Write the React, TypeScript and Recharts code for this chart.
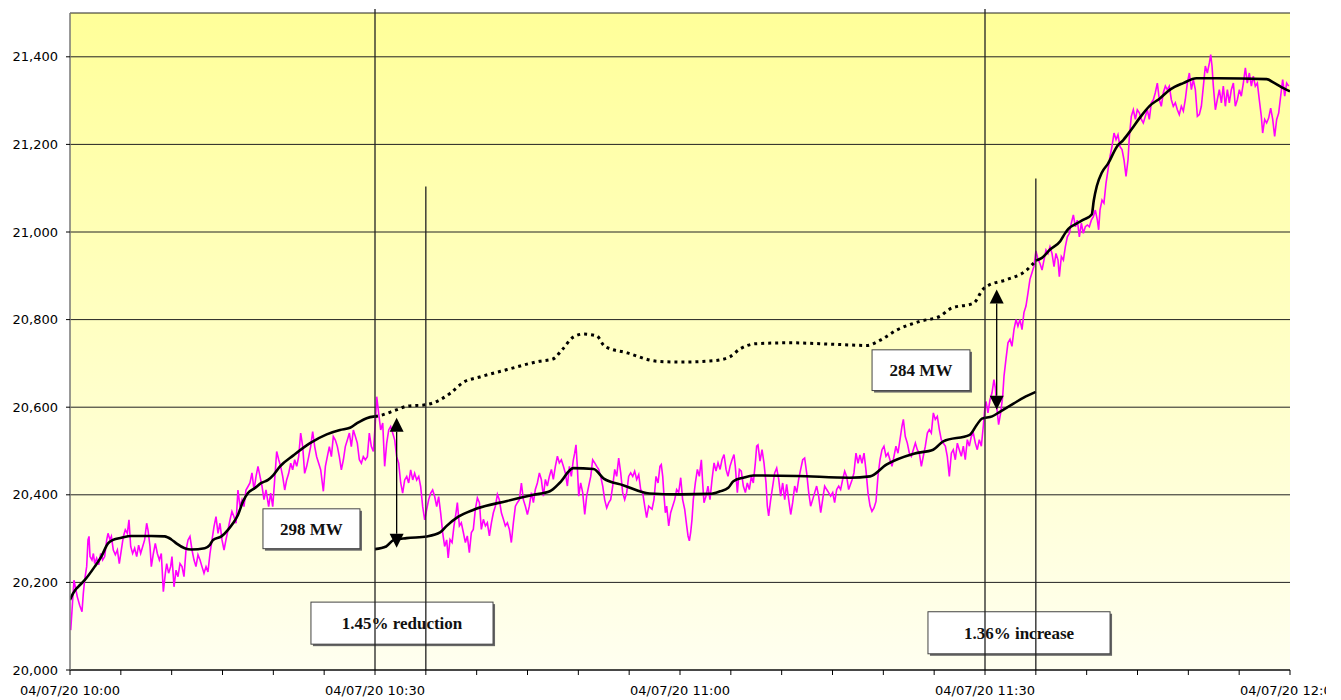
import React from "react";
import { CartesianGrid, Line, LineChart, ReferenceArea, ReferenceLine, XAxis, YAxis } from "recharts";

type Pt = [number, number]; // [minutes after 10:00, MW]

const TIME_LABELS = ["04/07/20 10:00", "04/07/20 10:30", "04/07/20 11:00", "04/07/20 11:30", "04/07/20 12:00"];
const X_TICKS = [0, 5, 10, 15, 20, 25, 30, 35, 40, 45, 50, 55, 60, 65, 70, 75, 80, 85, 90, 95, 100, 105, 110, 115, 120];
const Y_TICKS = [20000, 20200, 20400, 20600, 20800, 21000, 21200, 21400];

// actual demand (magenta), one list per half hour
const load1000: Pt[] = [
  [0.07, 20091], [0.2, 20137], [0.39, 20205], [0.52, 20190], [0.72, 20167], [0.95, 20148], [1.18, 20133], [1.31, 20175],
  [1.44, 20205], [1.64, 20236], [1.77, 20297], [1.87, 20305], [1.97, 20259], [2.16, 20251], [2.3, 20266], [2.43, 20243],
  [2.62, 20255], [2.82, 20240], [3.02, 20266], [3.21, 20251], [3.41, 20259], [3.61, 20297], [3.74, 20312], [3.93, 20297],
  [4.07, 20305], [4.26, 20274], [4.46, 20263], [4.66, 20274], [4.85, 20243], [5.05, 20274], [5.25, 20305], [5.44, 20320],
  [5.64, 20312], [5.8, 20343], [5.97, 20282], [6.16, 20266], [6.36, 20278], [6.56, 20259], [6.75, 20285], [6.95, 20266],
  [7.15, 20282], [7.34, 20297], [7.54, 20335], [7.67, 20320], [7.87, 20282], [8.0, 20236], [8.2, 20266], [8.39, 20289],
  [8.59, 20266], [8.79, 20251], [8.98, 20266], [9.18, 20179], [9.38, 20221], [9.51, 20243], [9.7, 20221], [9.9, 20236],
  [10.03, 20259], [10.23, 20190], [10.43, 20228], [10.62, 20213], [10.82, 20243], [11.02, 20236], [11.21, 20213], [11.41, 20274],
  [11.61, 20297], [11.8, 20305], [12.0, 20274], [12.2, 20251], [12.39, 20236], [12.59, 20263], [12.79, 20251], [12.98, 20236],
  [13.18, 20221], [13.38, 20236], [13.57, 20224], [13.77, 20266], [13.97, 20297], [14.16, 20327], [14.36, 20350], [14.56, 20312],
  [14.75, 20335], [14.95, 20297], [15.15, 20274], [15.34, 20297], [15.54, 20320], [15.74, 20343], [15.93, 20362], [16.13, 20350],
  [16.33, 20335], [16.52, 20411], [16.72, 20373], [16.92, 20389], [17.11, 20373], [17.31, 20411], [17.51, 20419], [17.7, 20427],
  [17.9, 20450], [18.1, 20411], [18.3, 20442], [18.49, 20465], [18.69, 20442], [18.89, 20419], [19.08, 20389], [19.28, 20411],
  [19.54, 20373], [19.74, 20404], [19.94, 20373], [20.13, 20434], [20.33, 20499], [20.53, 20480], [20.72, 20465], [20.92, 20442],
  [21.12, 20411], [21.31, 20434], [21.51, 20449], [21.71, 20472], [21.9, 20457], [22.1, 20480], [22.3, 20465], [22.49, 20487],
  [22.69, 20541], [22.89, 20510], [23.08, 20449], [23.28, 20465], [23.48, 20487], [23.67, 20510], [23.87, 20544], [24.07, 20510],
  [24.26, 20487], [24.46, 20472], [24.66, 20457], [24.92, 20408], [25.12, 20465], [25.31, 20487], [25.51, 20510], [25.71, 20487],
  [25.9, 20533], [26.1, 20525], [26.3, 20510], [26.49, 20487], [26.69, 20457], [26.89, 20480], [27.08, 20510], [27.28, 20525],
  [27.48, 20541], [27.67, 20510], [27.87, 20548], [28.07, 20533], [28.26, 20518], [28.46, 20480], [28.66, 20472], [28.85, 20487],
  [29.05, 20480], [29.25, 20487], [29.44, 20541], [29.64, 20510], [29.84, 20499],
];

const load1030: Pt[] = [
  [30.03, 20564], [30.17, 20624], [30.36, 20586], [30.56, 20548], [30.76, 20564], [30.95, 20465], [31.15, 20518], [31.35, 20548],
  [31.54, 20556], [31.74, 20541], [31.94, 20525], [32.13, 20487], [32.33, 20472], [32.53, 20427], [32.72, 20404], [32.92, 20434],
  [33.12, 20442], [33.31, 20427], [33.51, 20457], [33.71, 20434], [33.9, 20449], [34.1, 20434], [34.3, 20442], [34.49, 20419],
  [34.69, 20373], [34.89, 20343], [35.08, 20366], [35.28, 20389], [35.48, 20404], [35.67, 20411], [35.87, 20396], [36.07, 20373],
  [36.26, 20396], [36.46, 20358], [36.66, 20313], [36.85, 20282], [37.05, 20297], [37.2, 20256], [37.38, 20298], [37.58, 20291],
  [37.77, 20329], [37.97, 20359], [38.1, 20382], [38.3, 20329], [38.49, 20336], [38.69, 20314], [38.89, 20291], [39.08, 20306],
  [39.28, 20268], [39.48, 20314], [39.67, 20321], [39.87, 20367], [40.07, 20393], [40.27, 20382], [40.46, 20321], [40.66, 20344],
  [40.86, 20329], [41.05, 20336], [41.25, 20306], [41.45, 20336], [41.64, 20359], [41.84, 20374], [42.04, 20401], [42.23, 20389],
  [42.43, 20359], [42.63, 20344], [42.82, 20329], [43.02, 20336], [43.22, 20321], [43.41, 20291], [43.61, 20336], [43.81, 20374],
  [44.0, 20382], [44.2, 20389], [44.4, 20427], [44.59, 20389], [44.79, 20374], [44.99, 20355], [45.18, 20374], [45.38, 20405],
  [45.58, 20382], [45.77, 20412], [45.97, 20427], [46.17, 20450], [46.36, 20435], [46.56, 20397], [46.76, 20435], [46.95, 20420],
  [47.15, 20442], [47.35, 20458], [47.54, 20435], [47.74, 20465], [47.94, 20488], [48.13, 20473], [48.33, 20480], [48.53, 20465],
  [48.72, 20450], [48.92, 20420], [49.12, 20465], [49.31, 20442], [49.51, 20480], [49.64, 20495], [49.77, 20514], [49.9, 20465],
  [50.04, 20397], [50.23, 20427], [50.43, 20405], [50.63, 20355], [50.82, 20397], [51.02, 20420], [51.22, 20442], [51.41, 20480],
  [51.61, 20473], [51.81, 20465], [52.0, 20458], [52.2, 20442], [52.4, 20420], [52.59, 20389], [52.79, 20370], [52.99, 20382],
  [53.18, 20389], [53.38, 20420], [53.58, 20458], [53.77, 20442], [53.97, 20484], [54.17, 20450], [54.36, 20405], [54.56, 20389],
  [54.76, 20405], [54.95, 20442], [55.15, 20450], [55.35, 20442], [55.54, 20454], [55.74, 20435], [55.94, 20446], [56.13, 20412],
  [56.33, 20405], [56.53, 20374], [56.72, 20348], [56.92, 20374], [57.25, 20367], [57.44, 20389], [57.64, 20442], [57.84, 20427],
  [58.03, 20465], [58.16, 20469], [58.3, 20442], [58.43, 20397], [58.56, 20359], [58.69, 20374], [58.89, 20329], [59.08, 20359],
  [59.28, 20374], [59.48, 20389], [59.67, 20412], [59.87, 20405],
];

const load1100: Pt[] = [
  [60.07, 20439], [60.26, 20389], [60.46, 20367], [60.66, 20329], [60.79, 20306], [60.92, 20295], [61.05, 20314], [61.18, 20344],
  [61.31, 20389], [61.51, 20427], [61.71, 20458], [61.9, 20442], [62.1, 20480], [62.23, 20427], [62.36, 20382], [62.56, 20397],
  [62.75, 20420], [62.95, 20389], [63.15, 20435], [63.35, 20473], [63.54, 20454], [63.74, 20473], [63.94, 20458], [64.13, 20480],
  [64.33, 20492], [64.53, 20458], [64.72, 20442], [64.92, 20465], [65.12, 20480], [65.31, 20492], [65.44, 20465], [65.64, 20405],
  [65.84, 20458], [66.03, 20454], [66.23, 20420], [66.43, 20405], [66.62, 20427], [66.82, 20412], [67.02, 20442], [67.21, 20427],
  [67.41, 20473], [67.54, 20511], [67.67, 20514], [67.87, 20477], [68.07, 20503], [68.26, 20473], [68.46, 20427], [68.59, 20374],
  [68.72, 20352], [68.92, 20389], [69.12, 20420], [69.31, 20450], [69.51, 20461], [69.71, 20435], [69.9, 20397], [70.1, 20427],
  [70.3, 20389], [70.49, 20424], [70.69, 20389], [70.89, 20355], [71.08, 20382], [71.28, 20420], [71.48, 20405], [71.67, 20435],
  [71.87, 20458], [72.07, 20480], [72.26, 20484], [72.46, 20450], [72.66, 20405], [72.85, 20374], [73.05, 20389], [73.25, 20405],
  [73.44, 20420], [73.64, 20397], [73.84, 20359], [74.03, 20389], [74.23, 20420], [74.43, 20412], [74.62, 20405], [74.82, 20397],
  [75.02, 20405], [75.21, 20382], [75.41, 20412], [75.61, 20420], [75.8, 20412], [76.0, 20435], [76.2, 20454], [76.39, 20442],
  [76.59, 20412], [76.92, 20434], [77.11, 20450], [77.31, 20495], [77.51, 20472], [77.7, 20491], [77.9, 20472], [78.1, 20495],
  [78.29, 20457], [78.49, 20405], [78.69, 20375], [78.88, 20362], [79.08, 20370], [79.28, 20385], [79.47, 20442], [79.67, 20480],
  [79.87, 20503], [80.06, 20511], [80.26, 20488], [80.46, 20495], [80.65, 20480], [80.85, 20465], [81.05, 20488], [81.24, 20511],
  [81.44, 20495], [81.64, 20526], [81.83, 20556], [81.97, 20572], [82.16, 20533], [82.36, 20518], [82.56, 20495], [82.75, 20488],
  [82.95, 20503], [83.15, 20518], [83.34, 20503], [83.54, 20495], [83.74, 20465], [83.93, 20488], [84.13, 20511], [84.33, 20541],
  [84.52, 20549], [84.72, 20541], [84.92, 20587], [85.11, 20572], [85.31, 20579], [85.51, 20549], [85.7, 20526], [85.9, 20518],
  [86.1, 20511], [86.29, 20488], [86.49, 20442], [86.69, 20495], [86.88, 20503], [87.08, 20480], [87.28, 20518], [87.47, 20503],
  [87.67, 20488], [87.87, 20511], [88.06, 20480], [88.26, 20526], [88.46, 20511], [88.65, 20533], [88.85, 20541], [89.05, 20518],
  [89.24, 20503], [89.44, 20526], [89.64, 20511], [89.83, 20556], [89.97, 20594],
];

const load1130: Pt[] = [
  [90.1, 20613], [90.29, 20587], [90.49, 20617], [90.69, 20633], [90.88, 20663], [91.02, 20644], [91.15, 20602], [91.34, 20560],
  [91.54, 20587], [91.74, 20625], [91.87, 20671], [92.06, 20709], [92.26, 20747], [92.46, 20755], [92.65, 20739], [92.85, 20777],
  [93.05, 20800], [93.24, 20785], [93.44, 20800], [93.64, 20777], [93.83, 20816], [94.03, 20831], [94.23, 20861], [94.42, 20892],
  [94.62, 20907], [94.82, 20922], [95.01, 20957], [95.21, 20938], [95.41, 20928], [95.61, 20913], [95.8, 20936], [96.0, 20959],
  [96.2, 20951], [96.39, 20966], [96.59, 20951], [96.79, 20921], [96.98, 20951], [97.18, 20936], [97.31, 20898], [97.51, 20944],
  [97.71, 20936], [97.9, 20966], [98.1, 20989], [98.3, 20997], [98.49, 21020], [98.69, 21039], [98.89, 21012], [99.08, 21027],
  [99.28, 20989], [99.48, 21020], [99.67, 20997], [99.87, 21012], [100.07, 21016], [100.26, 21012], [100.46, 21027], [100.66, 21035],
  [100.85, 21050], [101.05, 21027], [101.18, 21005], [101.31, 21050], [101.51, 21073], [101.7, 21066], [101.9, 21111], [102.1, 21142],
  [102.3, 21173], [102.49, 21195], [102.69, 21226], [102.89, 21211], [103.08, 21222], [103.28, 21195], [103.48, 21188], [103.67, 21165],
  [103.87, 21127], [104.07, 21165], [104.2, 21218], [104.39, 21264], [104.59, 21279], [104.79, 21257], [104.98, 21279], [105.18, 21272],
  [105.38, 21257], [105.57, 21249], [105.77, 21264], [105.97, 21279], [106.16, 21257], [106.36, 21295], [106.56, 21302], [106.75, 21318],
  [106.95, 21340], [107.15, 21302], [107.34, 21287], [107.54, 21318], [107.74, 21333], [107.93, 21325], [108.13, 21333], [108.33, 21302],
  [108.52, 21287], [108.72, 21295], [108.92, 21279], [109.11, 21268], [109.31, 21287], [109.51, 21276], [109.7, 21302], [109.9, 21340],
  [110.1, 21363], [110.3, 21325], [110.49, 21348], [110.69, 21325], [110.89, 21264], [111.08, 21268], [111.28, 21287], [111.48, 21333],
  [111.67, 21379], [111.87, 21363], [112.07, 21386], [112.2, 21405], [112.33, 21379], [112.46, 21333], [112.66, 21279], [112.85, 21302],
  [113.05, 21325], [113.25, 21295], [113.44, 21333], [113.64, 21287], [113.84, 21325], [114.03, 21295], [114.23, 21325], [114.43, 21340],
  [114.62, 21287], [114.82, 21302], [115.02, 21325], [115.21, 21310], [115.41, 21340], [115.61, 21375], [115.8, 21340], [116.0, 21363],
  [116.2, 21333], [116.39, 21356], [116.59, 21333], [116.79, 21340], [116.98, 21302], [117.18, 21264], [117.31, 21226], [117.51, 21257],
  [117.7, 21249], [117.9, 21260], [118.1, 21283], [118.3, 21257], [118.49, 21218], [118.69, 21257], [118.89, 21272], [119.08, 21310],
  [119.28, 21348], [119.48, 21310], [119.67, 21340], [119.87, 21333],
];

// smoothed trend lines (black)
const trendBefore: Pt[] = [
  [0, 20160], [0.13, 20167], [0.5, 20182], [0.8, 20190], [1.44, 20205], [2.43, 20236], [3.08, 20259], [3.74, 20289],
  [4.23, 20297], [5.05, 20302], [6.03, 20306], [8.0, 20306], [9.31, 20305], [9.97, 20298], [10.46, 20289], [11.28, 20278],
  [11.93, 20275], [13.25, 20278], [13.74, 20285], [14.07, 20297], [14.89, 20305], [15.54, 20320], [16.03, 20335], [16.52, 20354],
  [17.02, 20385], [17.51, 20404], [18.16, 20415], [18.82, 20427], [19.48, 20434], [20.0, 20445], [20.66, 20465], [21.97, 20490],
  [23.61, 20518], [25.25, 20538], [26.56, 20548], [27.54, 20553], [28.2, 20563], [29.18, 20575], [30.0, 20579],
];

const trendAfterDrop: Pt[] = [
  [30.0, 20276], [31.1, 20282], [31.8, 20296], [33.1, 20301], [35.1, 20305], [36.4, 20314], [37.0, 20328], [38.2, 20350],
  [39.7, 20366], [43.0, 20386], [45.6, 20400], [47.2, 20408], [48.2, 20428], [49.5, 20461], [51.5, 20459], [52.5, 20437],
  [54.4, 20422], [57.0, 20403], [60.0, 20401], [62.95, 20402], [63.94, 20408], [64.75, 20416], [65.25, 20431], [66.23, 20439],
  [67.21, 20444], [71.5, 20443], [76.7, 20439], [78.7, 20442], [80.3, 20469], [83.0, 20494], [84.9, 20503], [85.9, 20522],
  [88.5, 20537], [89.2, 20560], [89.7, 20574], [90.7, 20579], [91.5, 20590], [92.8, 20608], [93.8, 20622], [95.0, 20635],
];

const trendWithoutDrop: Pt[] = [
  [30.0, 20579], [30.3, 20580], [32.1, 20594], [33.1, 20602], [35.1, 20606], [36.4, 20617], [37.4, 20632], [38.7, 20657],
  [40.3, 20669], [43.0, 20686], [46.2, 20705], [47.5, 20710], [48.4, 20731], [49.5, 20760], [50.5, 20767], [51.8, 20763],
  [52.6, 20739], [54.8, 20724], [57.7, 20705], [60.0, 20703], [63.3, 20706], [64.9, 20715], [65.9, 20733], [67.5, 20745],
  [70.8, 20747], [74.8, 20744], [78.4, 20741], [79.7, 20753], [81.3, 20776], [83.6, 20796], [85.6, 20808], [86.6, 20825],
  [88.9, 20838], [89.8, 20869], [90.2, 20876], [92.1, 20891], [94.1, 20913], [95.0, 20935],
];

const trendRecovery: Pt[] = [
  [95.0, 20935], [95.6, 20941], [96.4, 20960], [97.4, 20979], [97.9, 20998], [98.2, 21007], [99.0, 21019], [99.7, 21028],
  [100.5, 21040], [100.7, 21072], [101.0, 21105], [101.5, 21136], [102.1, 21156], [103.0, 21196], [103.6, 21210], [104.4, 21234],
  [105.2, 21260], [106.2, 21288], [107.2, 21305], [108.2, 21325], [109.5, 21340], [110.8, 21351], [112.8, 21351], [117.7, 21349],
  [118.4, 21341], [119.4, 21328], [120.0, 21321],
];

// annotations
const EVENT_LINES = [
  { x: 30, top: 21509 },
  { x: 35, top: 21104 },
  { x: 90, top: 21509 },
  { x: 95, top: 21122 },
];
const ARROWS = [
  { x: 32.13, low: 20279, high: 20576 },
  { x: 91.15, low: 20594, high: 20869 },
];
const NOTES = [
  { text: "298 MW", x1: 18.98, x2: 28.52, y1: 20277, y2: 20368 },
  { text: "1.45% reduction", x1: 23.7, x2: 41.61, y1: 20059, y2: 20155 },
  { text: "284 MW", x1: 78.89, x2: 88.52, y1: 20638, y2: 20731 },
  { text: "1.36% increase", x1: 84.39, x2: 102.3, y1: 20037, y2: 20133 },
];

const toRows = (pts: Pt[]) => pts.map(([t, v]) => ({ t, v }));
const actualRows = toRows([...load1000, ...load1030, ...load1100, ...load1130]);

const AXIS_FONT = { fill: "#000", fontSize: 13, fontFamily: "DejaVu Sans, Verdana, sans-serif" };

function ArrowShape(props: any) {
  const { x1, y1, y2 } = props;
  const top = Math.min(y1, y2);
  const bottom = Math.max(y1, y2);
  const head = 14;
  const half = 7;
  return (
    <g>
      <line x1={x1} x2={x1} y1={top + head} y2={bottom - head} stroke="#000" strokeWidth={1.3} />
      <polygon points={`${x1},${top} ${x1 - half},${top + head} ${x1 + half},${top + head}`} fill="#000" />
      <polygon points={`${x1},${bottom} ${x1 - half},${bottom - head} ${x1 + half},${bottom - head}`} fill="#000" />
    </g>
  );
}

function NoteBox(props: any) {
  const { x, y, width, height, text } = props;
  return (
    <g>
      <rect x={x + 2} y={y + 2} width={width} height={height} fill="#666" />
      <rect x={x} y={y} width={width} height={height} fill="#fff" stroke="#444" strokeWidth={1} />
      <text
        x={x + width / 2}
        y={y + height / 2 + 6}
        textAnchor="middle"
        fontFamily="Liberation Serif, Times New Roman, serif"
        fontWeight="bold"
        fontSize={17}
        fill="#111"
      >
        {text}
      </text>
    </g>
  );
}

export default function App() {
  return (
    <div style={{ position: "absolute", left: 0, top: 0, width: 1326, height: 700, overflow: "hidden", background: "#fff" }}>
      {/* plot background */}
      <div
        style={{
          position: "absolute",
          left: 70,
          top: 13,
          width: 1220,
          height: 657,
          background: "linear-gradient(#ffff99, #fffff0)",
        }}
      />
      <div style={{ position: "absolute", left: 0, top: 0 }}>
        <LineChart width={1341} height={700} margin={{ top: 13, right: 51, bottom: 0, left: 10 }}>
          <CartesianGrid vertical={false} stroke="#222" strokeWidth={1} />
          <XAxis
            type="number"
            dataKey="t"
            domain={[0, 120]}
            ticks={X_TICKS}
            interval={0}
            allowDataOverflow
            height={30}
            tickSize={5}
            tickMargin={11}
            stroke="#000"
            tick={AXIS_FONT}
            tickFormatter={(t: number) => (t % 30 === 0 ? TIME_LABELS[t / 30] : "")}
          />
          <YAxis
            type="number"
            domain={[20000, 21500]}
            ticks={Y_TICKS}
            allowDataOverflow
            width={60}
            tickSize={4}
            tickMargin={8}
            axisLine={{ stroke: "#777", strokeWidth: 1.5 }}
            tickLine={{ stroke: "#000" }}
            tick={AXIS_FONT}
            tickFormatter={(v: number) => v.toLocaleString("en-US")}
          />
          <Line data={actualRows} dataKey="v" type="linear" stroke="#ff00ff" strokeWidth={1.6} dot={false} isAnimationActive={false} />
          <Line data={toRows(trendBefore)} dataKey="v" type="monotone" stroke="#000" strokeWidth={2.6} dot={false} isAnimationActive={false} />
          <Line data={toRows(trendAfterDrop)} dataKey="v" type="monotone" stroke="#000" strokeWidth={2.6} dot={false} isAnimationActive={false} />
          <Line
            data={toRows(trendWithoutDrop)}
            dataKey="v"
            type="monotone"
            stroke="#000"
            strokeWidth={3}
            strokeDasharray="3 4"
            dot={false}
            isAnimationActive={false}
          />
          <Line data={toRows(trendRecovery)} dataKey="v" type="monotone" stroke="#000" strokeWidth={2.6} dot={false} isAnimationActive={false} />
          {EVENT_LINES.map((e) => (
            <ReferenceLine
              key={`ev-${e.x}`}
              segment={[{ x: e.x, y: e.top }, { x: e.x, y: 20000 }]}
              stroke="#222"
              strokeWidth={1.3}
              ifOverflow="visible"
            />
          ))}
          {ARROWS.map((a) => (
            <ReferenceLine
              key={`ar-${a.x}`}
              segment={[{ x: a.x, y: a.low }, { x: a.x, y: a.high }]}
              ifOverflow="visible"
              shape={ArrowShape}
            />
          ))}
          {NOTES.map((n) => (
            <ReferenceArea
              key={n.text}
              x1={n.x1}
              x2={n.x2}
              y1={n.y1}
              y2={n.y2}
              ifOverflow="visible"
              shape={(p: any) => <NoteBox {...p} text={n.text} />}
            />
          ))}
        </LineChart>
      </div>
    </div>
  );
}
